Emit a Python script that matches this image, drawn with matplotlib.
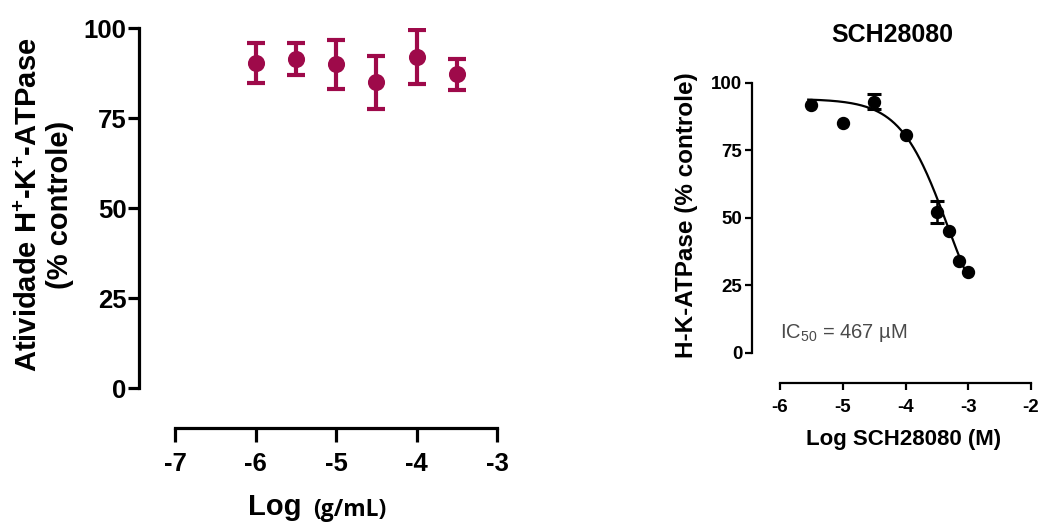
import numpy as np
import matplotlib
matplotlib.use("Agg")
import matplotlib.pyplot as plt

plt.rcParams['font.family'] = ['Liberation Sans', 'DejaVu Sans']
plt.rcParams['axes.unicode_minus'] = False
plt.rcParams['mathtext.fontset'] = 'custom'
plt.rcParams['mathtext.rm'] = 'Liberation Sans'
plt.rcParams['mathtext.bf'] = 'Liberation Sans:bold'
plt.rcParams['mathtext.it'] = 'Liberation Sans:italic'

# ---- Left panel data ----
left_x = [-6.0, -5.5, -5.0, -4.5, -4.0, -3.5]
left_y = [90.2, 91.4, 89.9, 84.9, 92.0, 87.2]
left_err = [5.5, 4.5, 6.8, 7.4, 7.5, 4.3]
left_xticks = [-7, -6, -5, -4, -3]
left_yticks = [0, 25, 50, 75, 100]

# ---- Right panel data ----
right_x = [-5.5, -5.0, -4.5, -4.0, -3.5, -3.3, -3.15, -3.0]
right_y = [91.7, 85.2, 93.0, 80.6, 52.2, 45.2, 34.1, 30.0]
right_err = [0, 0, 2.7, 0, 4.0, 0, 0, 0]
right_xticks = [-6, -5, -4, -3, -2]
right_yticks = [0, 25, 50, 75, 100]
# four-parameter logistic fit (as in the original)
fit_top, fit_bottom, fit_logic50, fit_hill = 94.0, 0.0, -3.33, 1.15
fit_range = (-5.55, -3.02)

crimson = '#9E0A4A'

fig = plt.figure(figsize=(10.43, 5.22), dpi=100)
W, H = 1043.0, 522.0

# Left axes
axL = fig.add_axes([175 / W, 1 - 388 / H, 322 / W, 360 / H])
axL.errorbar(left_x, left_y, yerr=left_err, fmt='o', color=crimson,
             markersize=11.3, elinewidth=3.0, capsize=6.8, capthick=3.0)
axL.set_xlim(-7, -3)
axL.set_ylim(0, 100)
axL.set_xticks(left_xticks)
axL.set_yticks(left_yticks)
for s in ['top', 'right']:
    axL.spines[s].set_visible(False)
axL.spines['left'].set_position(('outward', 26))
axL.spines['bottom'].set_position(('outward', 29))
for s in ['left', 'bottom']:
    axL.spines[s].set_linewidth(2.3)
axL.tick_params(axis='y', length=8, width=2.3, pad=1, labelsize=18.5)
axL.tick_params(axis='x', length=10, width=2.3, pad=7, labelsize=18.5)
for lab in axL.get_xticklabels() + axL.get_yticklabels():
    lab.set_fontweight('bold')

fig.text(44.5 / W, 1 - 205 / H,
         'Atividade H$^{\\mathbf{+}}$-K$^{\\mathbf{+}}$-ATPase\n(% controle)',
         rotation=90, ha='center', va='center', fontsize=21,
         fontweight='bold', linespacing=1.15, multialignment='center')
fig.text(248 / W, 1 - 515 / H, 'Log', ha='left', va='baseline',
         fontsize=21, fontweight='bold')
fig.text(313 / W, 1 - 516 / H, '(g/mL)', ha='left', va='baseline',
         fontsize=16.5, fontweight='bold', family=['Open Sans', 'DejaVu Sans'])

# Right axes
axR = fig.add_axes([780 / W, 1 - 352.7 / H, 251 / W, 270 / H])
xf = np.linspace(fit_range[0], fit_range[1], 200)
yf = fit_bottom + (fit_top - fit_bottom) / (1 + 10 ** ((xf - fit_logic50) * fit_hill))
axR.plot(xf, yf, color='black', lw=1.6)
ex = [x for x, e in zip(right_x, right_err) if e > 0]
ey = [y for y, e in zip(right_y, right_err) if e > 0]
ee = [e for e in right_err if e > 0]
axR.errorbar(ex, ey, yerr=ee, fmt='none', ecolor='black',
             elinewidth=1.8, capsize=5.0, capthick=2.2)
axR.plot(right_x, right_y, 'o', color='black', markersize=8.6)
axR.set_xlim(-6, -2)
axR.set_ylim(0, 100)
axR.set_xticks(right_xticks)
axR.set_yticks(right_yticks)
for s in ['top', 'right']:
    axR.spines[s].set_visible(False)
axR.spines['left'].set_position(('outward', 20))
axR.spines['bottom'].set_position(('outward', 22))
for s in ['left', 'bottom']:
    axR.spines[s].set_linewidth(1.6)
axR.tick_params(axis='both', length=5, width=1.6, labelsize=13.5)
axR.tick_params(axis='y', pad=2)
axR.tick_params(axis='x', pad=6)
for lab in axR.get_xticklabels() + axR.get_yticklabels():
    lab.set_fontweight('bold')
axR.text(-6.0, 5.5, 'IC$_{50}$ = 467 µM', ha='left', va='baseline',
         fontsize=14.5, color='#4a4a4a')

fig.text(892 / W, 1 - 35 / H, 'SCH28080', ha='center', va='center',
         fontsize=18, fontweight='bold')
fig.text(687 / W, 1 - 215.5 / H, 'H-K-ATPase (% controle)', rotation=90,
         ha='center', va='center', fontsize=17.5, fontweight='bold')
fig.text(904 / W, 1 - 440 / H, 'Log SCH28080 (M)', ha='center', va='center',
         fontsize=16, fontweight='bold')

fig.savefig('out.png', dpi=100)
